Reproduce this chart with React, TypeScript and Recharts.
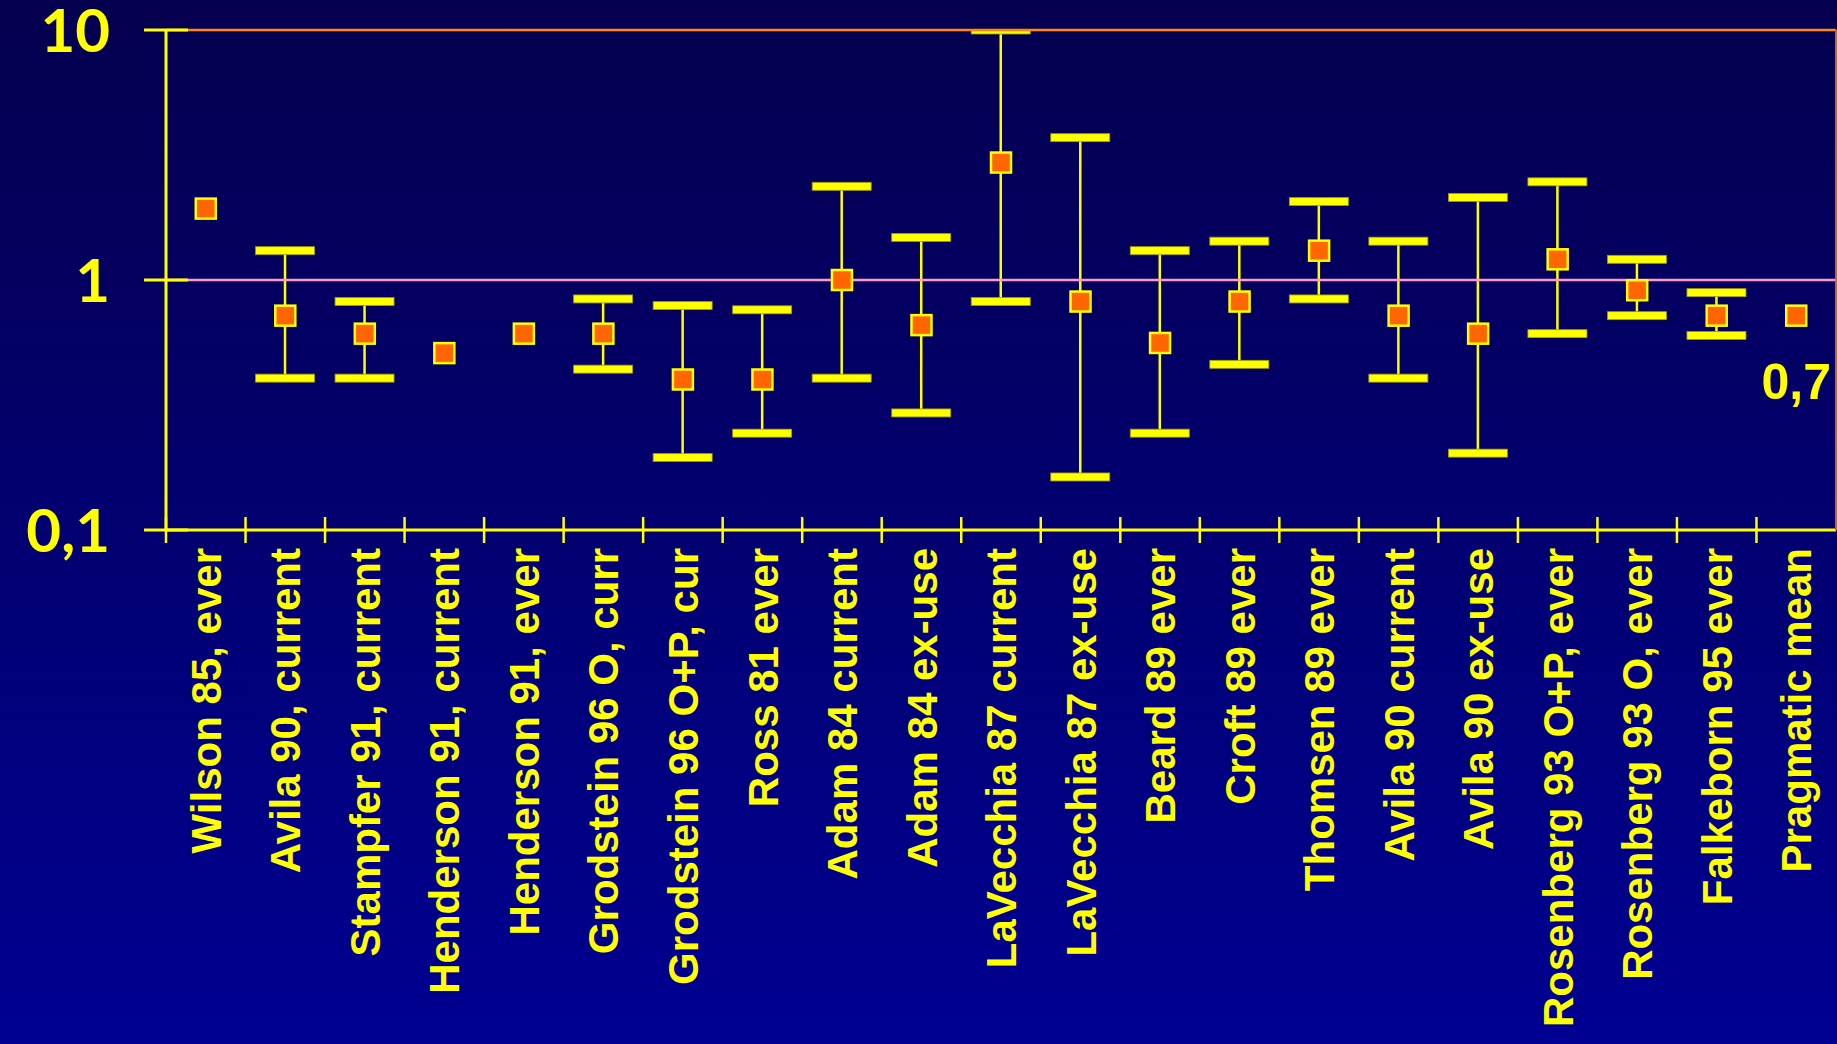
import React from "react";
import {
  ComposedChart,
  Bar,
  Line,
  XAxis,
  YAxis,
  ReferenceLine,
} from "recharts";

// study labels along the x axis
const studies = [
  "Wilson 85, ever",
  "Avila 90, current",
  "Stampfer 91, current",
  "Henderson 91, current",
  "Henderson 91, ever",
  "Grodstein 96 O, curr",
  "Grodstein 96 O+P, cur",
  "Ross 81 ever",
  "Adam 84 current",
  "Adam 84 ex-use",
  "LaVecchia 87 current",
  "LaVecchia 87 ex-use",
  "Beard 89 ever",
  "Croft 89 ever",
  "Thomsen 89 ever",
  "Avila 90 current",
  "Avila 90 ex-use",
  "Rosenberg 93 O+P, ever",
  "Rosenberg 93 O, ever",
  "Falkeborn 95 ever",
  "Pragmatic mean",
];

// relative risk point estimates
const estimates = [
  1.93, 0.72, 0.61, 0.51, 0.61, 0.61, 0.4, 0.4, 1.0, 0.66, 2.95, 0.82, 0.56,
  0.82, 1.31, 0.72, 0.61, 1.21, 0.91, 0.72, 0.72,
];

// confidence interval bounds (null = no interval shown)
const lowerCI = [
  null, 0.405, 0.405, null, null, 0.44, 0.195, 0.244, 0.405, 0.294, 0.82,
  0.163, 0.244, 0.46, 0.84, 0.405, 0.203, 0.61, 0.72, 0.6, null,
];
const upperCI = [
  null, 1.31, 0.82, null, null, 0.84, 0.79, 0.76, 2.37, 1.48, 10, 3.71, 1.31,
  1.43, 2.06, 1.43, 2.14, 2.47, 1.21, 0.89, null,
];

// text printed under a marker
const notes = ["", "", "", "", "", "", "", "", "", "", "", "", "", "", "", "", "", "", "", "", "0,7"];

const yTicks = [0.1, 1, 10];
const yTickLabels = ["0,1", "1", "10"];

const CHART_W = 1837;
const CHART_H = 1044;
const Y_AXIS_W = 166;
const RIGHT_W = 1;
const YELLOW = "#ffff00";

const data = studies.map((name, i) => ({
  name,
  rr: estimates[i],
  ci: lowerCI[i] == null ? null : [lowerCI[i], upperCI[i]],
  note: notes[i],
}));

const band = (CHART_W - Y_AXIS_W - RIGHT_W) / studies.length;

function YTick(props: any) {
  const { x, y, payload } = props;
  const idx = yTicks.indexOf(payload.value);
  return (
    <g>
      <line x1={x - 22} x2={x + 22} y1={y} y2={y} stroke={YELLOW} strokeWidth={3} />
      <text
        x={x - 56}
        y={y}
        dy="0.36em"
        textAnchor="end"
        fill={YELLOW}
        fontSize={60}
        fontWeight="bold"
        fontFamily="'Comic Sans MS', Lato, sans-serif"
      >
        {idx >= 0 ? yTickLabels[idx] : payload.value}
      </text>
    </g>
  );
}

function XTick(props: any) {
  const { x, y, payload } = props;
  const bx = x - band / 2;
  const ty = y + 18;
  return (
    <g>
      <line x1={bx} x2={bx} y1={y - 13} y2={y + 13} stroke={YELLOW} strokeWidth={2.5} />
      <text
        x={x}
        y={ty}
        dy="0.36em"
        transform={`rotate(-90, ${x}, ${ty})`}
        textAnchor="end"
        fill={YELLOW}
        fontSize={42}
        fontWeight="bold"
        fontFamily="'Liberation Sans', Arial, sans-serif"
      >
        {payload.value}
      </text>
    </g>
  );
}

function Whisker(props: any) {
  const { x, y, width, height, payload } = props;
  if (!payload || payload.ci == null || !Number.isFinite(y) || !Number.isFinite(height)) {
    return <g />;
  }
  const top = Math.min(y, y + height);
  const bottom = Math.max(y, y + height);
  const cx = x + width / 2;
  return (
    <g>
      <line x1={cx} x2={cx} y1={top} y2={bottom} stroke={YELLOW} strokeWidth={2.5} />
      <rect x={x} y={top - 4} width={width} height={8} fill={YELLOW} stroke="#9c9c00" strokeWidth={0.8} />
      <rect x={x} y={bottom - 4} width={width} height={8} fill={YELLOW} stroke="#9c9c00" strokeWidth={0.8} />
    </g>
  );
}

function Marker(props: any) {
  const { cx, cy, payload, index } = props;
  if (!Number.isFinite(cx) || !Number.isFinite(cy)) return <g key={index} />;
  return (
    <g key={index}>
      <rect x={cx - 10} y={cy - 10} width={20} height={20} fill="#ff6600" stroke={YELLOW} strokeWidth={2.5} />
      {payload.note ? (
        <text
          x={cx}
          y={cy + 83}
          textAnchor="middle"
          fill={YELLOW}
          fontSize={50}
          fontWeight="bold"
          fontFamily="'Liberation Sans', Arial, sans-serif"
        >
          {payload.note}
        </text>
      ) : null}
    </g>
  );
}

export default function App() {
  return (
    <div
      style={{
        position: "absolute",
        left: 0,
        top: 0,
        width: CHART_W,
        height: CHART_H,
        background: "linear-gradient(to bottom, #05004e 0%, #000092 100%)",
      }}
    >
      <ComposedChart
        width={CHART_W}
        height={CHART_H}
        data={data}
        margin={{ top: 30, right: 0, left: 0, bottom: 0 }}
      >
        <XAxis
          dataKey="name"
          type="category"
          interval={0}
          height={514}
          tickSize={0}
          tickMargin={0}
          tickLine={false}
          axisLine={{ stroke: YELLOW, strokeWidth: 3 }}
          tick={<XTick />}
        />
        <YAxis
          yAxisId="l"
          type="number"
          scale="log"
          domain={[0.1, 10]}
          ticks={yTicks}
          allowDataOverflow
          width={Y_AXIS_W}
          tickSize={0}
          tickMargin={0}
          tickLine={false}
          axisLine={{ stroke: YELLOW, strokeWidth: 3 }}
          tick={<YTick />}
        />
        <YAxis
          yAxisId="r"
          orientation="right"
          type="number"
          scale="log"
          domain={[0.1, 10]}
          allowDataOverflow
          width={RIGHT_W}
          tick={false}
          tickLine={false}
          axisLine={{ stroke: "#c46a10", strokeWidth: 2 }}
        />
        <ReferenceLine yAxisId="l" y={10} stroke="#ff8c00" strokeWidth={2.5} />
        <ReferenceLine yAxisId="l" y={1} stroke="#ff99cc" strokeWidth={2.5} />
        <Bar
          yAxisId="l"
          dataKey="ci"
          barSize={59}
          shape={<Whisker />}
          isAnimationActive={false}
        />
        <Line
          yAxisId="l"
          dataKey="rr"
          stroke="none"
          dot={(p: any) => <Marker {...p} />}
          activeDot={false}
          isAnimationActive={false}
        />
      </ComposedChart>
    </div>
  );
}
